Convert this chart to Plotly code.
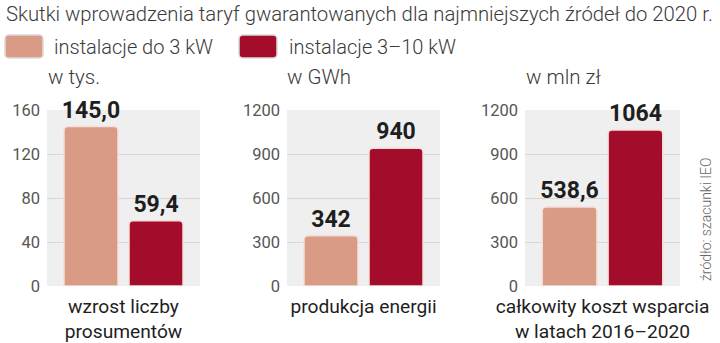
import plotly.graph_objects as go

# ---- data ----
categories = ["wzrost liczby<br>prosumentów", "produkcja energii",
              "całkowity koszt wsparcia<br>w latach 2016–2020"]
units = ["w tys.", "w GWh", "w mln zł"]
series_names = ["instalacje do 3 kW", "instalacje 3–10 kW"]
small_vals = [145.0, 342, 538.6]
big_vals = [59.4, 940, 1064]
small_labels = ["145,0", "342", "538,6"]
big_labels = ["59,4", "940", "1064"]
y_ranges = [[0, 160], [0, 1200], [0, 1200]]
y_ticks = [[0, 40, 80, 120, 160], [0, 300, 600, 900, 1200], [0, 300, 600, 900, 1200]]
title = "Skutki wprowadzenia taryf gwarantowanych dla najmniejszych źródeł do 2020 r."
source = "źródło: szacunki IEO"

# ---- style ----
W, H = 720, 343
C_LIGHT = "#D99A86"
C_DARK = "#A30C2B"
REG = "Roboto, sans-serif"

def px(x):
    return x / W

def py(y):
    return 1 - y / H

x_domains = [[47, 200], [287, 440], [525, 680]]
y_dom = [py(286), py(110)]

fig = go.Figure()
for i in range(3):
    xa = "x" if i == 0 else f"x{i+1}"
    ya = "y" if i == 0 else f"y{i+1}"
    for vals, labels, col, name in [(small_vals, small_labels, C_LIGHT, series_names[0]),
                                    (big_vals, big_labels, C_DARK, series_names[1])]:
        fig.add_trace(go.Bar(
            x=[categories[i]], y=[vals[i]], text=[labels[i]], name=name,
            xaxis=xa, yaxis=ya, showlegend=False,
            marker=dict(color=col, cornerradius=4, line=dict(color="#F6DED8", width=1.5)),
            textposition="outside", cliponaxis=False, constraintext="none",
            textfont=dict(family=REG, size=23, color="#1e1e1e", weight="bold"),
            hoverinfo="skip",
        ))

layout = dict(
    width=W, height=H, autosize=False,
    margin=dict(l=0, r=0, t=0, b=0),
    paper_bgcolor="white", plot_bgcolor="#EFEFEF",
    barmode="group", bargap=0.15, bargroupgap=0.17,
    showlegend=False,
)
for i in range(3):
    sx = "" if i == 0 else str(i + 1)
    layout[f"xaxis{sx}"] = dict(
        domain=[px(x_domains[i][0]), px(x_domains[i][1])], anchor=f"y{sx}",
        type="category", showgrid=False, zeroline=False, showline=False, ticks="",
        tickfont=dict(family=REG, size=19.2, color="#1e1e1e"), ticklabelstandoff=7,
        fixedrange=True, automargin=False,
    )
    layout[f"yaxis{sx}"] = dict(
        domain=y_dom, anchor=f"x{sx}", range=y_ranges[i], tickvals=y_ticks[i],
        showgrid=True, gridcolor="#D6D6D6", gridwidth=1, zeroline=False, showline=False,
        ticks="", tickfont=dict(family=REG, size=16.5, color="#555555"),
        ticklabelstandoff=6, fixedrange=True, automargin=False,
    )
fig.update_layout(**layout)

def rrect(x0, y0, x1, y1, r):
    X0, X1 = px(x0), px(x1)
    Y0, Y1 = py(y0), py(y1)
    rx, ry = r / W, r / H
    return (f"M {X0+rx},{Y0} L {X1-rx},{Y0} Q {X1},{Y0} {X1},{Y0-ry} "
            f"L {X1},{Y1+ry} Q {X1},{Y1} {X1-rx},{Y1} L {X0+rx},{Y1} "
            f"Q {X0},{Y1} {X0},{Y1+ry} L {X0},{Y0-ry} Q {X0},{Y0} {X0+rx},{Y0} Z")

shapes = []
ann = []
LIGHT_FONT = dict(family=REG, color="#3a3a3a", weight=300)
# title
ann.append(dict(text=title, x=px(4), y=py(14), xref="paper", yref="paper",
                xanchor="left", yanchor="middle", showarrow=False,
                font=dict(size=20.3, **LIGHT_FONT)))
# legend
leg = [(5, 43, 52, C_LIGHT, series_names[0]), (239, 277, 287, C_DARK, series_names[1])]
for x0, x1, tx, col, name in leg:
    shapes.append(dict(type="path", path=rrect(x0, 35, x1, 58, 4), xref="paper", yref="paper",
                       fillcolor=col, line=dict(color="#DADADA", width=1.5)))
    ann.append(dict(text=name, x=px(tx), y=py(47), xref="paper", yref="paper",
                    xanchor="left", yanchor="middle", showarrow=False,
                    font=dict(size=20, **LIGHT_FONT)))
# units
for ux, u in zip([46, 285, 524], units):
    ann.append(dict(text=u, x=px(ux), y=py(77), xref="paper", yref="paper",
                    xanchor="left", yanchor="middle", showarrow=False,
                    font=dict(size=20.5, **LIGHT_FONT)))
# source
ann.append(dict(text=source, x=px(706), y=py(220), xref="paper", yref="paper",
                xanchor="center", yanchor="middle", showarrow=False, textangle=-90,
                font=dict(family=REG, size=14, color="#666666", weight=300)))
fig.update_layout(shapes=shapes, annotations=ann)

fig.write_html("out.html", config={"displayModeBar": False})
